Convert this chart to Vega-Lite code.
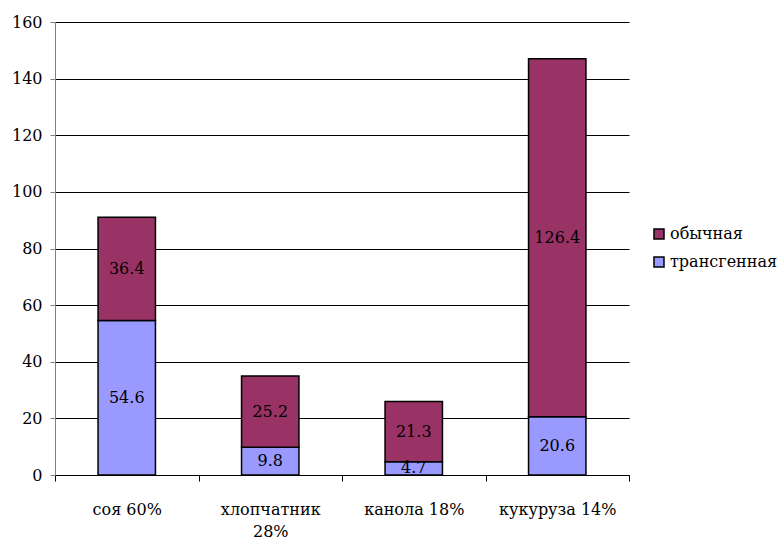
{
  "$schema": "https://vega.github.io/schema/vega-lite/v6.json",
  "width": 574,
  "height": 453,
  "autosize": {"type": "none"},
  "padding": {"left": 55, "top": 22, "right": 154, "bottom": 70},
  "background": "white",
  "config": {
    "view": {"stroke": null},
    "font": "DejaVu Serif",
    "axis": {"labelFont": "DejaVu Serif", "labelFontSize": 16},
    "legend": {"labelFont": "DejaVu Serif", "labelFontSize": 16},
    "text": {"font": "DejaVu Serif", "fontSize": 16}
  },
  "data": {
    "values": [
      {"crop": "соя 60%", "type": "трансгенная", "value": 54.6, "ord": 1},
      {"crop": "соя 60%", "type": "обычная", "value": 36.4, "ord": 2},
      {"crop": "хлопчатник 28%", "type": "трансгенная", "value": 9.8, "ord": 1},
      {"crop": "хлопчатник 28%", "type": "обычная", "value": 25.2, "ord": 2},
      {"crop": "канола 18%", "type": "трансгенная", "value": 4.7, "ord": 1},
      {"crop": "канола 18%", "type": "обычная", "value": 21.3, "ord": 2},
      {"crop": "кукуруза 14%", "type": "трансгенная", "value": 20.6, "ord": 1},
      {"crop": "кукуруза 14%", "type": "обычная", "value": 126.4, "ord": 2}
    ]
  },
  "transform": [
    {"stack": "value", "groupby": ["crop"], "sort": [{"field": "ord", "order": "ascending"}], "as": ["v0", "v1"]},
    {"calculate": "(datum.v0 + datum.v1) / 2", "as": "vmid"}
  ],
  "encoding": {
    "x": {
      "field": "crop",
      "type": "nominal",
      "sort": ["соя 60%", "хлопчатник 28%", "канола 18%", "кукуруза 14%"],
      "scale": {"paddingInner": 0, "paddingOuter": 0},
      "axis": {
        "title": null,
        "labelAngle": 0,
        "tickBand": "extent",
        "domainColor": "black",
        "tickColor": "black",
        "tickSize": 6,
        "labelColor": "black",
        "labelPadding": 20,
        "labelLineHeight": 22,
        "labelExpr": "datum.label == 'хлопчатник 28%' ? ['хлопчатник', '28%'] : datum.label"
      }
    }
  },
  "layer": [
    {
      "mark": {"type": "bar", "width": {"band": 0.4}, "stroke": "black", "strokeWidth": 1.5},
      "encoding": {
        "y": {
          "field": "v1",
          "type": "quantitative",
          "scale": {"domain": [0, 160]},
          "axis": {
            "title": null,
            "values": [0, 20, 40, 60, 80, 100, 120, 140, 160],
            "grid": true,
            "gridColor": "black",
            "gridOpacity": 1,
            "gridWidth": 1,
            "domainColor": "#808080",
            "tickColor": "#808080",
            "tickSize": 5,
            "labelColor": "black",
            "labelPadding": 8
          }
        },
        "y2": {"field": "v0"},
        "color": {
          "field": "type",
          "type": "nominal",
          "scale": {"domain": ["обычная", "трансгенная"], "range": ["#993366", "#9999FF"]},
          "legend": {
            "title": null,
            "orient": "none",
            "legendX": 596,
            "legendY": 204,
            "symbolType": "square",
            "symbolSize": 100,
            "symbolStrokeColor": "black",
            "symbolStrokeWidth": 1.5,
            "labelColor": "black",
            "labelOffset": 3,
            "rowPadding": 12
          }
        }
      }
    },
    {
      "mark": {"type": "text", "color": "black", "baseline": "middle", "clip": true},
      "encoding": {
        "y": {"field": "vmid", "type": "quantitative"},
        "text": {"field": "value", "type": "quantitative", "format": ".1f"}
      }
    }
  ]
}
